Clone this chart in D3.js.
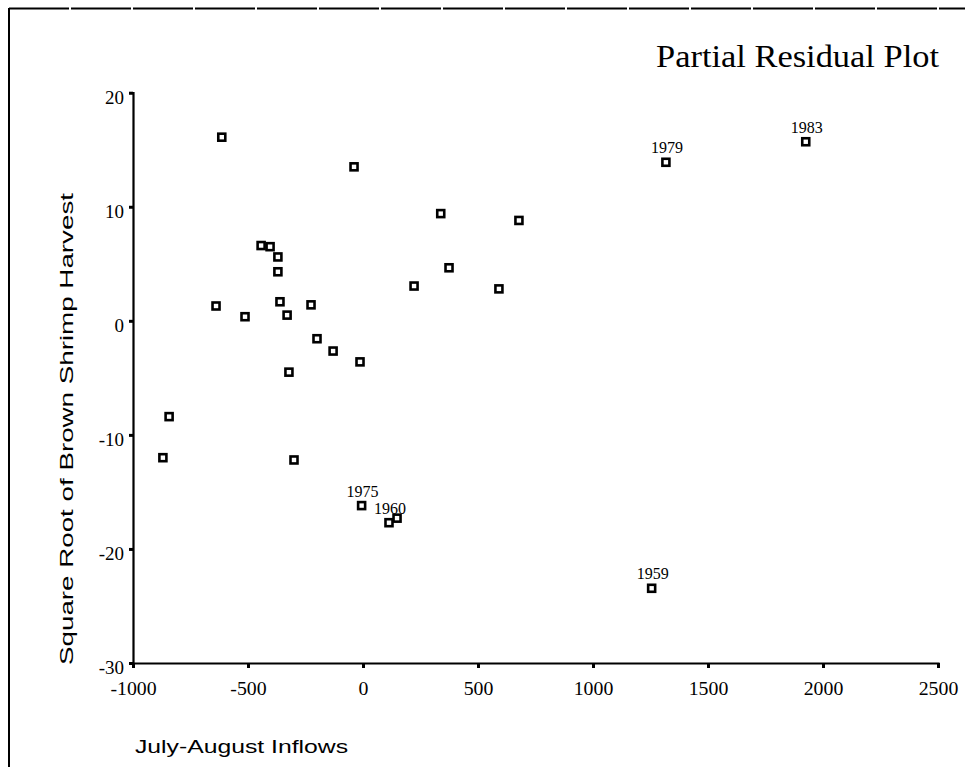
<!DOCTYPE html>
<html>
<head>
<meta charset="utf-8">
<script src="https://cdn.jsdelivr.net/npm/d3@7"></script>
<style>
  html, body { margin: 0; padding: 0; background: #fff; }
  svg { display: block; }
</style>
</head>
<body>
<script>
// ---- data ----
const inflows  = [-614, -39, -443, -404, -370, -370, -639, -513, -361, -330, -226, -200, -130, -13, -322, -843, -870, -300, -6, 113, 148, 1255, 1317, 1925, 338, 678, 374, 222, 591];
const residual = [16.1, 13.5, 6.6, 6.5, 5.6, 4.3, 1.3, 0.36, 1.67, 0.5, 1.4, -1.57, -2.65, -3.6, -4.5, -8.4, -12.0, -12.2, -16.2, -17.7, -17.3, -23.45, 13.9, 15.7, 9.4, 8.8, 4.65, 3.05, 2.8];
const yearLabels = ["", "", "", "", "", "", "", "", "", "", "", "", "", "", "", "", "", "", "1975", "1960", "", "1959", "1979", "1983", "", "", "", "", ""];
const xTicks = [-1000, -500, 0, 500, 1000, 1500, 2000, 2500];
const yTicks = [-30, -20, -10, 0, 10, 20];
const titleText = "Partial Residual Plot";
const xLabel = "July-August Inflows";
const yLabel = "Square Root of Brown Shrimp Harvest";

const W = 965, H = 767;
const svg = d3.select("body").append("svg").attr("width", W).attr("height", H);

// frame
svg.append("line").attr("x1", 9).attr("x2", 9).attr("y1", 8).attr("y2", H)
  .attr("stroke", "#000").attr("stroke-width", 2);
svg.append("line").attr("x1", 9).attr("x2", W).attr("y1", 8.5).attr("y2", 8.5)
  .attr("stroke", "#000").attr("stroke-width", 1.8).attr("stroke-dasharray", "60 2");

const x = d3.scaleLinear().domain([-1000, 2500]).range([133, 938]);
const y = d3.scaleLinear().domain([-30, 20]).range([663, 92.7]);

const serif = "'Liberation Serif', 'Times New Roman', serif";
const sans = "'Liberation Sans', Arial, sans-serif";
const fmt = d => String(d);

// x axis
const gx = svg.append("g").attr("transform", `translate(0,${y(-30)})`)
  .call(d3.axisBottom(x).tickValues(xTicks).tickSize(5).tickPadding(14).tickFormat(fmt));
gx.select(".domain").attr("stroke-width", 2.2);
gx.selectAll(".tick line").attr("stroke-width", 3);
gx.selectAll(".tick text").attr("font-family", serif).attr("font-size", 18).attr("fill", "#000")
  .attr("transform", "scale(1.1,1)");

// y axis
const gy = svg.append("g").attr("transform", `translate(${x(-1000)},0)`)
  .call(d3.axisLeft(y).tickValues(yTicks).tickSize(4).tickPadding(5).tickFormat(fmt));
gy.select(".domain").attr("stroke-width", 2.2);
gy.selectAll(".tick line").attr("stroke-width", 3);
gy.selectAll(".tick text").attr("font-family", serif).attr("font-size", 19).attr("fill", "#000")
  .attr("dy", "0.55em");

// points
const pts = inflows.map((v, i) => ({ x: v, y: residual[i], label: yearLabels[i] }));
svg.append("g").selectAll("rect").data(pts).join("rect")
  .attr("x", d => x(d.x) - 3.5).attr("y", d => y(d.y) - 3.5)
  .attr("width", 7).attr("height", 7)
  .attr("fill", "#fff").attr("stroke", "#000").attr("stroke-width", 2.6);

svg.append("g").selectAll("text").data(pts.filter(d => d.label)).join("text")
  .attr("x", d => x(d.x) + 1).attr("y", d => y(d.y) - 9)
  .attr("text-anchor", "middle")
  .attr("font-family", serif).attr("font-size", 16).attr("fill", "#000")
  .text(d => d.label);

// title
svg.append("text").attr("x", 656).attr("y", 67)
  .attr("font-family", serif).attr("font-size", 31).attr("fill", "#000")
  .attr("textLength", 283).attr("lengthAdjust", "spacingAndGlyphs")
  .text(titleText);

// axis titles
svg.append("text").attr("x", 135).attr("y", 753)
  .attr("font-family", sans).attr("font-size", 17.5).attr("fill", "#000")
  .attr("textLength", 213).attr("lengthAdjust", "spacingAndGlyphs")
  .text(xLabel);

svg.append("text").attr("transform", "translate(73,665) rotate(-90)")
  .attr("font-family", sans).attr("font-size", 17.5).attr("fill", "#000")
  .attr("textLength", 472).attr("lengthAdjust", "spacingAndGlyphs")
  .text(yLabel);
</script>
</body>
</html>
